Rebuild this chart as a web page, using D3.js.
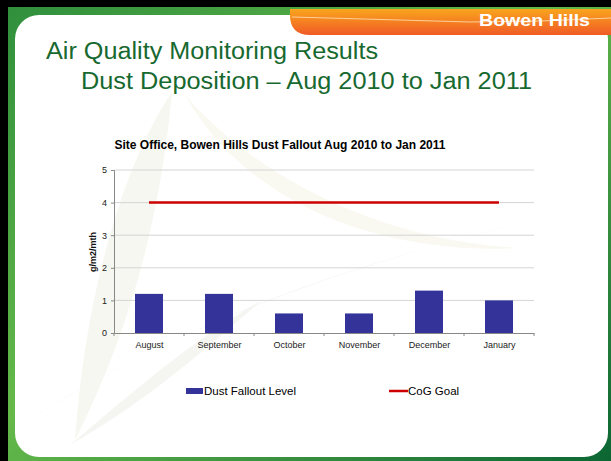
<!DOCTYPE html>
<html>
<head>
<meta charset="utf-8">
<script src="https://cdn.jsdelivr.net/npm/d3@7"></script>
<style>
  body { margin: 0; background: #000; }
  svg { display: block; font-family: "Liberation Sans", Arial, sans-serif; }
</style>
</head>
<body>
<svg id="slide" width="611" height="461"></svg>
<script>
/* -------------------------------------------------------------------------- */
// data
const months = ['August', 'September', 'October', 'November', 'December', 'January'];
const dustFallout = [1.2, 1.2, 0.6, 0.6, 1.3, 1.0];
const cogGoal = [4, 4, 4, 4, 4, 4];
const yTicks = [0, 1, 2, 3, 4, 5];

const FONT = '"Liberation Sans", Arial, sans-serif';

/* -------------------------------------------------------------------------- */
const svg = d3.select('#slide');
const defs = svg.append('defs');

let g = defs.append('linearGradient').attr('id', 'frame')
  .attr('x1', 0).attr('y1', 0).attr('x2', 1).attr('y2', 1);
g.append('stop').attr('offset', '0%').attr('stop-color', '#2f8f3c');
g.append('stop').attr('offset', '45%').attr('stop-color', '#66ba4a');
g.append('stop').attr('offset', '100%').attr('stop-color', '#0b6633');

g = defs.append('linearGradient').attr('id', 'tab')
  .attr('x1', 0).attr('y1', 0).attr('x2', 0).attr('y2', 1);
g.append('stop').attr('offset', '0%').attr('stop-color', '#f9a51d');
g.append('stop').attr('offset', '100%').attr('stop-color', '#f05a26');

// frame
svg.append('rect').attr('width', 611).attr('height', 461).attr('fill', '#000');
svg.append('rect').attr('x', 8).attr('y', 7).attr('width', 603).attr('height', 454)
  .attr('fill', 'url(#frame)');
svg.append('rect').attr('x', 15).attr('y', 15).attr('width', 593).attr('height', 442)
  .attr('rx', 24).attr('fill', '#fff');

// orange tab
svg.append('path')
  .attr('d', 'M290,9 L611,9 L611,35 L310,35 Q290,35 290,15 Z')
  .attr('fill', 'url(#tab)');
svg.append('path')
  .attr('d', 'M292,17 Q400,20 470,22 Q540,22 611,18')
  .attr('fill', 'none').attr('stroke', '#fde3b8').attr('stroke-width', 0.8);
svg.append('text').attr('x', 479).attr('y', 26)
  .attr('fill', '#fff').attr('font-weight', 'bold').attr('font-size', 17)
  .attr('textLength', 111).attr('lengthAdjust', 'spacingAndGlyphs')
  .text('Bowen Hills');

// faint watermark swooshes
const wm = svg.append('g');
wm.append('path')
  .attr('d', 'M172,92 C120,170 85,300 75,440 C130,330 160,220 172,92 Z')
  .attr('fill', '#f6f7f0');
wm.append('path')
  .attr('d', 'M185,95 C250,170 370,240 520,248 C390,255 250,210 185,95 Z')
  .attr('fill', '#f9f9f1');
wm.append('path')
  .attr('d', 'M30,420 C150,340 330,265 585,208 C380,255 200,310 30,420 Z')
  .attr('fill', '#f5f6f8');
wm.append('path')
  .attr('d', 'M70,445 C140,385 200,335 262,300 C200,355 140,405 70,445 Z')
  .attr('fill', '#f5f6f2');

// slide title
svg.append('text').attr('x', 46).attr('y', 59)
  .attr('fill', '#17692f').attr('font-size', 23)
  .attr('textLength', 332).attr('lengthAdjust', 'spacingAndGlyphs')
  .text('Air Quality Monitoring Results');
svg.append('text').attr('x', 81).attr('y', 89)
  .attr('fill', '#17692f').attr('font-size', 23)
  .attr('textLength', 451).attr('lengthAdjust', 'spacingAndGlyphs')
  .text('Dust Deposition \u2013 Aug 2010 to Jan 2011');

/* -------------------------------------------------------------------------- */
// chart
const margin = {left: 114, right: 534, top: 170, bottom: 333};

const x = d3.scaleBand().domain(months)
  .range([margin.left, margin.right]).paddingInner(0.6).paddingOuter(0.3);
const xPt = d3.scalePoint().domain(months)
  .range([margin.left, margin.right]).padding(0.5);
const y = d3.scaleLinear().domain([0, 5]).range([margin.bottom, margin.top]);

svg.append('text').attr('x', 280).attr('y', 149).attr('text-anchor', 'middle')
  .attr('font-size', 12).attr('font-weight', 'bold').attr('fill', '#000')
  .text('Site Office, Bowen Hills Dust Fallout Aug 2010 to Jan 2011');

// gridlines
svg.append('g').selectAll('line')
  .data(yTicks.slice(1))
  .enter().append('line')
  .attr('x1', margin.left).attr('x2', margin.right)
  .attr('y1', d => y(d)).attr('y2', d => y(d))
  .attr('stroke', '#d4d4d4').attr('stroke-width', 1);

// y axis
const yAxis = svg.append('g').attr('transform', `translate(${margin.left},0)`)
  .call(d3.axisLeft(y).tickValues(yTicks).tickFormat(d3.format('d'))
    .tickSize(3).tickPadding(4));
yAxis.select('.domain').attr('stroke', '#888');
yAxis.selectAll('.tick line').attr('stroke', '#888');
yAxis.selectAll('text').attr('font-size', 9).attr('fill', '#222')
  .attr('font-family', FONT);

svg.append('text')
  .attr('transform', `translate(96,252) rotate(-90)`)
  .attr('text-anchor', 'middle').attr('font-size', 9).attr('font-weight', 'bold')
  .attr('fill', '#111')
  .text('g/m2/mth');

// bars
svg.append('g').selectAll('rect')
  .data(dustFallout)
  .enter().append('rect')
  .attr('x', (d, i) => x(months[i]))
  .attr('width', x.bandwidth())
  .attr('y', d => y(d))
  .attr('height', d => y(0) - y(d))
  .attr('fill', '#333399');

// x axis
const band = (margin.right - margin.left) / months.length;
const xAxis = svg.append('g').attr('transform', `translate(0,${margin.bottom})`)
  .call(d3.axisBottom(xPt).tickSize(0).tickPadding(9));
xAxis.select('.domain').attr('stroke', '#888');
xAxis.selectAll('text').attr('font-size', 9).attr('fill', '#222')
  .attr('font-family', FONT);
svg.append('g').selectAll('line')
  .data(d3.range(months.length + 1))
  .enter().append('line')
  .attr('x1', d => margin.left + d * band).attr('x2', d => margin.left + d * band)
  .attr('y1', margin.bottom).attr('y2', margin.bottom + 3)
  .attr('stroke', '#888');

// goal line
svg.append('path')
  .datum(cogGoal)
  .attr('d', d3.line().x((d, i) => xPt(months[i])).y(d => y(d)))
  .attr('fill', 'none').attr('stroke', '#cc0000').attr('stroke-width', 2.5);

// legend
svg.append('rect').attr('x', 186).attr('y', 388).attr('width', 17).attr('height', 6)
  .attr('fill', '#333399');
svg.append('text').attr('x', 204).attr('y', 395).attr('font-size', 11.5)
  .text('Dust Fallout Level');
svg.append('line').attr('x1', 389).attr('x2', 408).attr('y1', 391).attr('y2', 391)
  .attr('stroke', '#cc0000').attr('stroke-width', 2.5);
svg.append('text').attr('x', 408).attr('y', 395).attr('font-size', 11.5)
  .text('CoG Goal');
</script>
</body>
</html>
